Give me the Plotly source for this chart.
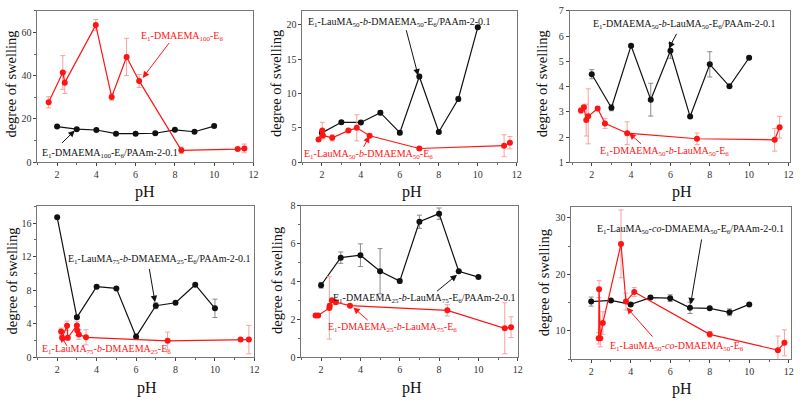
import plotly.graph_objects as go

W, H = 801, 406
FONT = "Times New Roman, Liberation Serif, DejaVu Serif, serif"
RED = "#ff1414"
PINK = "#f7a0a0"
BLACK = "#111111"
GREYBAR = "#8a8a8a"

ph_black = [2, 3, 4, 5, 6, 7, 8, 9, 10]

# Panel 1
p1_bx = ph_black
p1_by = [16.5, 15.3, 14.9, 13.2, 13.2, 13.4, 15.0, 14.1, 16.7]
p1_be = [0.4, 0.4, 0.4, 0.4, 0.4, 0.4, 0.4, 0.4, 0.4]
p1_rx = [1.57, 2.29, 2.39, 3.97, 4.78, 5.54, 6.18, 8.33, 11.2, 11.54]
p1_ry = [27.7, 41.5, 36.8, 63.4, 30.2, 48.7, 37.6, 5.5, 6.1, 6.4]
p1_re = [2.6, 7.8, 5.0, 2.6, 1.5, 8.6, 3.0, 1.5, 0.5, 2.0]

# Panel 2
p2_bx = ph_black
p2_by = [4.27, 5.8, 5.78, 7.2, 4.3, 12.46, 4.4, 9.2, 19.6]
p2_be = [0.3, 0.2, 0.2, 0.3, 0.3, 0.3, 0.2, 0.3, 0.2]
p2_rx = [1.83, 2.02, 2.05, 2.53, 3.36, 3.79, 4.45, 7.0, 11.35, 11.65]
p2_ry = [3.3, 4.6, 3.9, 3.55, 4.6, 5.0, 3.85, 2.0, 2.4, 2.85]
p2_re = [0.2, 1.2, 0.4, 0.45, 0.2, 1.9, 0.2, 0.1, 1.6, 0.9]

# Panel 3
p3_bx = ph_black
p3_by = [4.49, 3.16, 5.62, 3.48, 5.42, 2.81, 4.88, 4.01, 5.14]
p3_be = [0.18, 0.12, 0.05, 0.65, 0.3, 0.05, 0.5, 0.05, 0.05]
p3_rx = [1.45, 1.6, 1.72, 1.82, 2.3, 2.67, 3.8, 7.35, 11.3, 11.55]
p3_ry = [3.05, 3.18, 2.67, 2.82, 3.13, 2.54, 2.15, 1.93, 1.89, 2.39]
p3_re = [0.1, 0.08, 0.63, 1.09, 0.07, 0.2, 0.45, 0.23, 0.45, 0.43]

# Panel 4
p4_bx = ph_black
p4_by = [16.7, 4.74, 8.4, 8.2, 2.43, 6.13, 6.48, 8.64, 5.82]
p4_be = [0.1, 0.2, 0.1, 0.1, 0.35, 0.35, 0.1, 0.1, 1.1]
p4_rx = [2.2, 2.25, 2.5, 2.54, 3.0, 3.02, 3.1, 3.46, 7.6, 11.3, 11.72]
p4_ry = [3.05, 2.3, 3.74, 2.3, 3.78, 3.16, 2.7, 2.35, 1.93, 2.08, 2.08]
p4_re = [0.4, 0.3, 0.55, 0.3, 0.5, 0.6, 0.6, 0.9, 1.05, 0.1, 1.7]

# Panel 5
p5_bx = ph_black
p5_by = [3.8, 5.26, 5.39, 4.54, 4.02, 7.16, 7.59, 4.54, 4.23]
p5_be = [0.15, 0.3, 0.6, 1.2, 0.1, 0.35, 0.3, 0.05, 0.05]
p5_rx = [1.72, 1.85, 2.42, 2.44, 2.55, 2.75, 3.47, 8.42, 11.34, 11.66]
p5_ry = [2.2, 2.2, 2.6, 2.72, 3.0, 2.9, 2.72, 2.47, 1.52, 1.58]
p5_re = [0.05, 0.05, 1.65, 0.1, 0.1, 0.1, 0.05, 0.3, 1.35, 0.55]

# Panel 6
p6_bx = ph_black
p6_by = [15.2, 15.4, 14.7, 15.9, 15.8, 14.1, 14.0, 13.3, 14.7]
p6_be = [0.8, 0.2, 0.3, 0.3, 0.6, 1.0, 0.2, 0.6, 0.2]
p6_rx = [2.38, 2.4, 2.46, 2.59, 3.51, 3.76, 4.18, 8.0, 11.45, 11.78]
p6_ry = [8.7, 17.4, 8.7, 11.4, 25.4, 15.2, 16.9, 9.4, 6.6, 7.9]
p6_re = [1.0, 1.5, 1.5, 2.0, 6.0, 1.5, 0.8, 0.5, 2.5, 2.3]

black_labels = [
    "E<sub>1</sub>-DMAEMA<sub>100</sub>-E<sub>6</sub>/PAAm-2-0.1",
    "E<sub>1</sub>-LauMA<sub>50</sub>-<i>b</i>-DMAEMA<sub>50</sub>-E<sub>6</sub>/PAAm-2-0.1",
    "E<sub>1</sub>-DMAEMA<sub>50</sub>-<i>b</i>-LauMA<sub>50</sub>-E<sub>6</sub>/PAAm-2-0.1",
    "E<sub>1</sub>-LauMA<sub>75</sub>-<i>b</i>-DMAEMA<sub>25</sub>-E<sub>6</sub>/PAAm-2-0.1",
    "E<sub>1</sub>-DMAEMA<sub>25</sub>-<i>b</i>-LauMA<sub>75</sub>-E<sub>6</sub>/PAAm-2-0.1",
    "E<sub>1</sub>-LauMA<sub>50</sub>-<i>co</i>-DMAEMA<sub>50</sub>-E<sub>6</sub>/PAAm-2-0.1",
]
red_labels = [
    "E<sub>1</sub>-DMAEMA<sub>100</sub>-E<sub>6</sub>",
    "E<sub>1</sub>-LauMA<sub>50</sub>-<i>b</i>-DMAEMA<sub>50</sub>-E<sub>6</sub>",
    "E<sub>1</sub>-DMAEMA<sub>50</sub>-<i>b</i>-LauMA<sub>50</sub>-E<sub>6</sub>",
    "E<sub>1</sub>-LauMA<sub>75</sub>-<i>b</i>-DMAEMA<sub>25</sub>-E<sub>6</sub>",
    "E<sub>1</sub>-DMAEMA<sub>25</sub>-<i>b</i>-LauMA<sub>75</sub>-E<sub>6</sub>",
    "E<sub>1</sub>-LauMA<sub>50</sub>-<i>co</i>-DMAEMA<sub>50</sub>-E<sub>6</sub>",
]

panels = [
    (p1_bx, p1_by, p1_be, p1_rx, p1_ry, p1_re),
    (p2_bx, p2_by, p2_be, p2_rx, p2_ry, p2_re),
    (p3_bx, p3_by, p3_be, p3_rx, p3_ry, p3_re),
    (p4_bx, p4_by, p4_be, p4_rx, p4_ry, p4_re),
    (p5_bx, p5_by, p5_be, p5_rx, p5_ry, p5_re),
    (p6_bx, p6_by, p6_be, p6_rx, p6_ry, p6_re),
]

# layout geometry (pixels: left, right, top, bottom)
boxes = [
    (37.7, 255.0, 5.0, 161.0),
    (304.3, 520.0, 5.0, 161.0),
    (573.3, 795.0, 5.0, 161.0),
    (37.7, 256.0, 206.5, 361.7),
    (303.3, 521.0, 206.0, 361.7),
    (575.0, 795.7, 206.7, 364.0),
]
xranges = [[1, 12], [1, 12], [0.88, 12.08], [1, 12], [1, 12], [1, 12.1]]
yranges = [[0, 70], [0, 22], [1, 7], [0, 18], [0, 8], [5, 32]]
ydticks = [20, 5, 1, 4, 2, 10]
yminor = [10, None, None, 2, 1, 5]

# label / arrow placement (data coords): text pos, arrow tail, arrow head
black_text = [(1.12, 4.2), (1.2, 20.35), (1.96, 6.44), (2.45, 11.67), (2.51, 3.12), (2.2, 27.9)]
black_arrow = [((2.17, 8.2), (2.9, 14.7)), ((6.31, 19.4), (6.94, 12.6)), ((6.35, 6.15), (5.92, 5.51)),
               ((6.66, 10.7), (6.96, 6.55)), ((7.82, 3.42), (8.91, 4.35)), ((7.6, 26.45), (7.03, 14.7))]
red_text = [(6.16, 58.0), (1.0, 1.17), (2.3, 1.42), (1.11, 0.85), (2.25, 1.54), (2.87, 7.3)]
red_arrow = [((7.76, 55.8), (6.36, 39.0)), ((4.1, 2.0), (4.44, 3.8)), ((4.58, 1.68), (3.9, 2.15)),
             ((2.54, 1.15), (2.17, 2.58)), ((4.45, 1.88), (3.64, 2.62)), ((5.17, 8.74), (3.8, 14.17))]

fig = go.Figure()
annotations = []
layout = {}

for i, (bx, by, be, rx, ry, re) in enumerate(panels):
    n = i + 1
    xa = "x" if n == 1 else f"x{n}"
    ya = "y" if n == 1 else f"y{n}"
    fig.add_trace(go.Scatter(
        x=bx, y=by, mode="lines+markers", xaxis=xa, yaxis=ya,
        line=dict(color=BLACK, width=1.2), marker=dict(color=BLACK, size=6),
        error_y=dict(type="data", array=be, color=GREYBAR, thickness=1, width=2.5),
        showlegend=False, cliponaxis=False))
    fig.add_trace(go.Scatter(
        x=rx, y=ry, mode="lines+markers", xaxis=xa, yaxis=ya,
        line=dict(color=RED, width=1.2), marker=dict(color=RED, size=6),
        error_y=dict(type="data", array=re, color=PINK, thickness=1, width=2.5),
        showlegend=False, cliponaxis=False))

    l, r, t, b = boxes[i]
    xkey = "xaxis" if n == 1 else f"xaxis{n}"
    ykey = "yaxis" if n == 1 else f"yaxis{n}"
    layout[xkey] = dict(
        domain=[l / W, r / W], range=xranges[i], anchor=ya,
        tickmode="linear", tick0=2, dtick=2, ticks="outside", ticklen=3,
        tickcolor="#444", showgrid=False, zeroline=False,
        showline=True, linecolor="#777", linewidth=1, mirror=True,
        tickfont=dict(family=FONT, size=10, color="#333"),
        ticklabeloverflow="allow",
        minor=dict(ticks="outside", ticklen=2, dtick=1, tick0=1, tickcolor="#666"),
    )
    ymin = dict(ticks="outside", ticklen=2, dtick=yminor[i], tickcolor="#666") if yminor[i] else None
    yd = dict(
        domain=[1 - b / H, 1 - t / H], range=yranges[i], anchor=xa,
        tickmode="linear", tick0=0, dtick=ydticks[i], ticks="outside", ticklen=3,
        tickcolor="#444", showgrid=False, zeroline=False,
        showline=True, linecolor="#777", linewidth=1, mirror=True,
        tickfont=dict(family=FONT, size=10, color="#333"),
        ticklabeloverflow="allow",
    )
    if ymin:
        yd["minor"] = ymin
    layout[ykey] = yd

    # labels
    tx, ty = black_text[i]
    annotations.append(dict(x=tx, y=ty, xref=xa, yref=ya, text=black_labels[i], showarrow=False,
                            xanchor="left", yanchor="middle",
                            font=dict(family=FONT, size=10, color="#111")))
    (ax_, ay_), (hx, hy) = black_arrow[i]
    annotations.append(dict(x=hx, y=hy, xref=xa, yref=ya, ax=ax_, ay=ay_, axref=xa, ayref=ya,
                            text="", showarrow=True, arrowhead=2, arrowsize=1.3, arrowwidth=1,
                            arrowcolor="#111"))
    tx, ty = red_text[i]
    annotations.append(dict(x=tx, y=ty, xref=xa, yref=ya, text=red_labels[i], showarrow=False,
                            xanchor="left", yanchor="middle",
                            font=dict(family=FONT, size=10, color=RED)))
    (ax_, ay_), (hx, hy) = red_arrow[i]
    annotations.append(dict(x=hx, y=hy, xref=xa, yref=ya, ax=ax_, ay=ay_, axref=xa, ayref=ya,
                            text="", showarrow=True, arrowhead=2, arrowsize=1.3, arrowwidth=1,
                            arrowcolor=RED))

# axis titles
ytitle_pos = [(11, 80), (277, 80), (545, 80), (12, 283), (278, 283), (547, 285)]
xtitle_pos = [(146, 192), (415, 192), (686, 192), (148, 394), (415, 394), (686, 395)]
for (px, py) in ytitle_pos:
    annotations.append(dict(x=px / W, y=1 - py / H, xref="paper", yref="paper",
                            text="degree of swelling", textangle=-90, showarrow=False,
                            xanchor="center", yanchor="middle",
                            font=dict(family=FONT, size=14.5, color="#111")))
for (px, py) in xtitle_pos:
    annotations.append(dict(x=px / W, y=1 - py / H, xref="paper", yref="paper",
                            text="pH", showarrow=False, xanchor="center", yanchor="middle",
                            font=dict(family=FONT, size=16, color="#111")))

fig.update_layout(
    width=W, height=H, margin=dict(l=0, r=0, t=0, b=0),
    paper_bgcolor="white", plot_bgcolor="white",
    annotations=annotations, **layout,
)

fig.write_html("out.html", config={"displayModeBar": False},
               post_script="document.body.style.margin='0px';document.body.style.overflow='hidden';")
